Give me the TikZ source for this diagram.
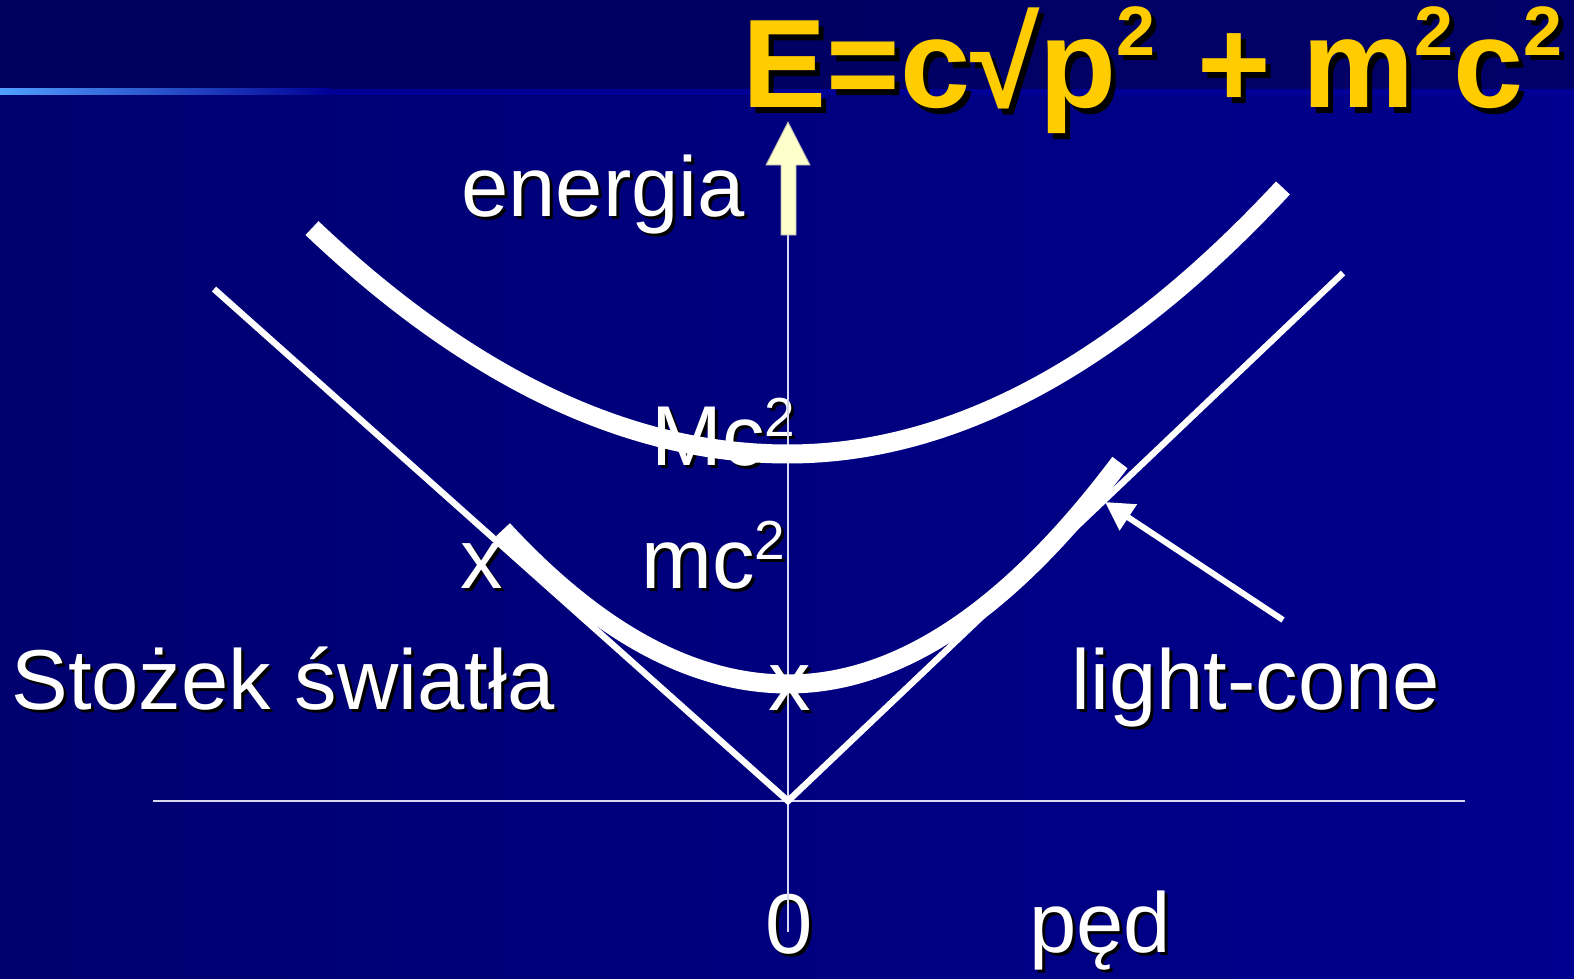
\documentclass[tikz,border=0pt]{standalone}
\usepackage{fontspec}
\setmainfont{Liberation Sans}
\usetikzlibrary{calc,arrows.meta}
\definecolor{bgL}{RGB}{0,0,112}
\definecolor{bgR}{RGB}{0,0,142}
\definecolor{topL}{RGB}{0,0,94}
\definecolor{topR}{RGB}{0,0,104}
\definecolor{glow}{RGB}{80,160,255}
\definecolor{lineR}{RGB}{0,0,150}
\definecolor{gold}{RGB}{255,204,0}
\definecolor{cream}{RGB}{255,255,204}
\definecolor{axisc}{RGB}{215,215,240}
\newcommand{\lbl}[4]{%
  \node[lbltxt, text=black, anchor=#3] (#1-sh) at ($(#2)+(3,3)$) {#4};
  \node[lbltxt, text=white, anchor=#3] (#1) at (#2) {#4};}
\newcommand{\lsq}{\raisebox{14.5pt}{\fontsize{27.5}{27.5}\selectfont 2}}
\newcommand{\tsq}{\raisebox{26pt}{\fontsize{35}{35}\selectfont\bfseries 2}}
\begin{document}
\begin{tikzpicture}[x=0.5pt,y=-0.5pt,
  lbltxt/.style={font=\fontsize{42.5}{48}\selectfont, inner sep=0pt},
  ttltxt/.style={font=\fontsize{63}{63}\selectfont\bfseries, inner sep=0pt, anchor=base west},
  axisline/.style={draw=axisc, line width=1pt},
  bigcurve/.style={draw=white, line width=9.5pt, line cap=butt},
  cone/.style={draw=white, line width=3.2pt},
  pointer/.style={draw=white, line width=3pt, -{Triangle[length=14pt,width=15pt]}}]
\useasboundingbox (0,0) rectangle (1574,979);
% background
\shade[left color=bgL,right color=bgR] (0,92) rectangle (1574,979);
\shade[left color=topL,right color=topR] (0,0) rectangle (1574,92);
\shade[left color=glow,right color=lineR] (0,89) rectangle (330,95);
\fill[lineR] (330,89) rectangle (1574,95);
% title
\node[ttltxt, text=black] (title-sh) at (747,113) {E=c√p\tsq\hspace{21pt}+\hspace{16pt}m\tsq c\tsq};
\node[ttltxt, text=gold] (title) at (742,108) {E=c√p\tsq\hspace{21pt}+\hspace{16pt}m\tsq c\tsq};
% labels
\lbl{energia}{461,216}{base west}{energia}
\lbl{stozek}{11,709}{base west}{Stożek światła}
\lbl{lightcone}{1071,709}{base west}{light-cone}
\lbl{ped}{1029,952}{base west}{pęd}
\lbl{zero}{789,953}{base}{0}
\lbl{xl}{482,588}{base}{x}
\lbl{xc}{790,710}{base}{x}
\lbl{mc}{641,588}{base west}{mc\lsq}
\lbl{Mc}{651,465}{base west}{Mc\lsq}
% coordinates
\coordinate (O) at (788,801);
\coordinate (axT) at (788,235);
\coordinate (axB) at (788,932);
\coordinate (haL) at (153,801);
\coordinate (haR) at (1465,801);
\coordinate (coneL) at (214,289);
\coordinate (coneR) at (1343,273);
\coordinate (ptS) at (1283,620);
\coordinate (ptT) at (1105,502);
% axes
\draw[axisline] (axT) -- (axB);
\draw[axisline] (haL) -- (haR);
% block arrow
\filldraw[fill=cream, draw=gray!60, line width=0.4pt]
  (781,235) -- (781,165) -- (766,165) -- (788,122) -- (810,165) -- (796,165) -- (796,235) -- cycle;
% upper curve (M c^2)
\draw[bigcurve] plot[domain=-4.76:0, samples=60] ({788+100*\x},{454-9.97*\x*\x})
  -- plot[domain=0:4.95, samples=60] ({788+100*\x},{454-10.86*\x*\x});
% lower curve (m c^2)
\draw[bigcurve] plot[domain=-2.85:0, samples=60] ({788+100*\x},{684-19.0*\x*\x})
  -- plot[domain=0:3.32, samples=60] ({788+100*\x},{684-20.1*\x*\x});
% light cone
\draw[cone] (coneL) -- (O) -- (coneR);
% pointer
\draw[pointer] (ptS) -- (ptT);
\end{tikzpicture}
\end{document}
